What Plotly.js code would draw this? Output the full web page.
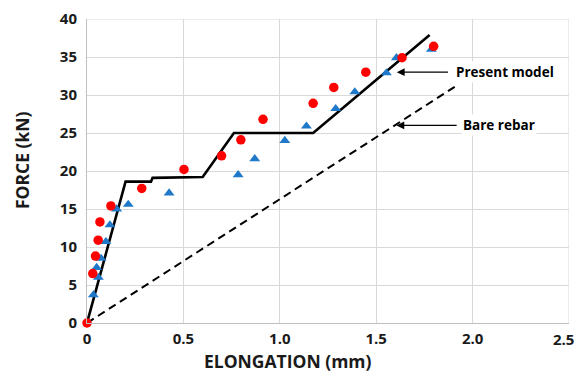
<!DOCTYPE html>
<html><head><meta charset="utf-8">
<script src="https://cdn.plot.ly/plotly-3.0.1.min.js"></script>
<style>html,body{margin:0;padding:0;background:#fff;}#chart{width:577px;height:376px;}</style>
</head><body><div id="chart"></div>
<script>
// Experimental series 1 (red circles)
const redX = [0, 0.030, 0.044, 0.058, 0.067, 0.124, 0.284, 0.503, 0.698, 0.798, 0.913, 1.173, 1.28, 1.446, 1.634, 1.798];
const redY = [0, 6.5, 8.8, 10.9, 13.3, 15.4, 17.7, 20.2, 22.0, 24.1, 26.8, 28.9, 31.0, 33.0, 34.9, 36.4];
// Experimental series 2 (blue triangles)
const blueX = [0.033, 0.050, 0.059, 0.073, 0.098, 0.119, 0.154, 0.214, 0.426, 0.784, 0.870, 1.026, 1.138, 1.29, 1.389, 1.553, 1.605, 1.786];
const blueY = [3.7, 7.3, 6.0, 8.5, 10.7, 12.9, 15.0, 15.6, 17.1, 19.5, 21.6, 24.0, 25.9, 28.2, 30.4, 32.9, 34.9, 36.0];
// Present model (solid line)
const modelX = [0, 0.200, 0.332, 0.340, 0.600, 0.762, 1.173, 1.777];
const modelY = [0, 18.6, 18.6, 19.1, 19.2, 25.0, 25.0, 37.9];
// Bare rebar (dashed line)
const bareX = [0, 1.915];
const bareY = [0, 31.2];
// Tick labels
const xTickVals = [0, 0.5, 1.0, 1.5, 2.0, 2.5];
const xTickText = ['0', '0.5', '1.0', '1.5', '2.0', '2.5'];
const yTickVals = [0, 5, 10, 15, 20, 25, 30, 35, 40];

const F = '"Open Sans", Lato, sans-serif';
const traces = [
  {x: bareX, y: bareY, mode: 'lines', line: {color: '#000', width: 2, dash: '8px,5px'}},
  {x: modelX, y: modelY, mode: 'lines', line: {color: '#000', width: 2.6}, cliponaxis: false},
  {x: blueX, y: blueY, mode: 'markers', marker: {symbol: 'triangle-up', size: 9.5, color: '#1f78c8'}, cliponaxis: false},
  {x: redX, y: redY, mode: 'markers', marker: {symbol: 'circle', size: 9.5, color: '#ff0000'}, cliponaxis: false}
];
const tf = {family: F, size: 15, color: '#1a1a1a', weight: 'bold'};
const layout = {
  width: 577, height: 376,
  margin: {l: 87, r: 8, t: 19, b: 53},
  paper_bgcolor: '#fff', plot_bgcolor: '#fff',
  showlegend: false,
  font: {family: F, size: 14, color: '#1a1a1a'},
  xaxis: {range: [0, 2.5], tickvals: xTickVals.slice(0, 5), ticktext: xTickText.slice(0, 5), showgrid: true, gridcolor: '#d9d9d9', gridwidth: 1,
          zeroline: false, showline: true, linecolor: '#bfbfbf', linewidth: 1, ticks: '', ticklabelstandoff: 2,
          tickfont: tf, fixedrange: true},
  yaxis: {range: [0, 40], tickvals: yTickVals, showgrid: true, gridcolor: '#d9d9d9', gridwidth: 1,
          zeroline: false, showline: true, linecolor: '#bfbfbf', linewidth: 1, ticks: '', ticklabelstandoff: 6,
          tickfont: tf, fixedrange: true},
  shapes: [
    {type: 'line', xref: 'x', yref: 'paper', x0: xTickVals[5], x1: xTickVals[5], y0: 0, y1: 1, line: {color: '#d9d9d9', width: 1}},
    {type: 'line', xref: 'paper', yref: 'y', x0: 0, x1: 1, y0: yTickVals[8], y1: yTickVals[8], line: {color: '#d9d9d9', width: 1}}
  ],
  annotations: [
    {xref: 'paper', yref: 'paper', x: (576-87)/482, y: -0.012, yanchor: 'top', xanchor: 'right', showarrow: false,
     text: xTickText[5], font: tf},
    {xref: 'paper', yref: 'paper', x: (288-87)/482, y: (323-361)/304, yanchor: 'middle', xanchor: 'center', showarrow: false,
     text: '<b>ELONGATION (mm)</b>', font: {family: F, size: 17.5, color: '#1a1a1a'}},
    {xref: 'paper', yref: 'paper', x: (22-87)/482, y: (323-160)/304, xanchor: 'center', yanchor: 'middle', showarrow: false, textangle: -90,
     text: '<b>FORCE (kN)</b>', font: {family: F, size: 17.5, color: '#1a1a1a'}},
    {x: 1.607, y: 33.0, xref: 'x', yref: 'y', ax: 1.88, ay: 33.0, axref: 'x', ayref: 'y', showarrow: true, arrowhead: 2, arrowsize: 1.3, arrowwidth: 1.2, arrowcolor: '#000', text: ''},
    {x: 1.905, y: 33.0, xref: 'x', yref: 'y', xanchor: 'left', showarrow: false, text: '<b>Present model</b>', font: {family: F, size: 13.5, color: '#000'}, bgcolor: '#fff'},
    {x: 1.605, y: 26.0, xref: 'x', yref: 'y', ax: 1.925, ay: 26.0, axref: 'x', ayref: 'y', showarrow: true, arrowhead: 2, arrowsize: 1.3, arrowwidth: 1.2, arrowcolor: '#000', text: ''},
    {x: 1.94, y: 26.0, xref: 'x', yref: 'y', xanchor: 'left', showarrow: false, text: '<b>Bare rebar</b>', font: {family: F, size: 13.5, color: '#000'}, bgcolor: '#fff'}
  ]
};
Plotly.newPlot('chart', traces, layout, {displayModeBar: false, staticPlot: true});
</script></body></html>
